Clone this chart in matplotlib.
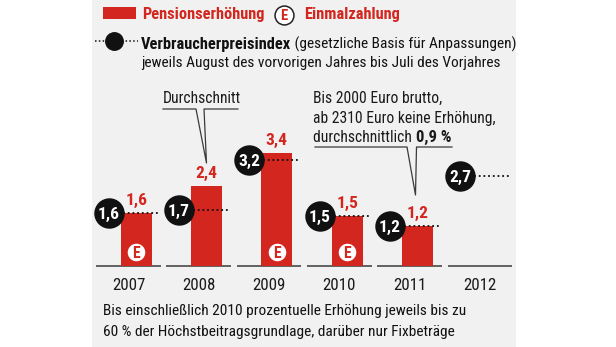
import os
import numpy as np
import matplotlib
matplotlib.use("Agg")
import matplotlib.pyplot as plt
import matplotlib.font_manager as fm
from matplotlib.font_manager import FontProperties

# ---------------- data ----------------
years = ["2007", "2008", "2009", "2010", "2011", "2012"]
pension = [1.6, 2.4, 3.4, 1.5, 1.2, np.nan]          # Pensionserhöhung in %
cpi = [1.6, 1.7, 3.2, 1.5, 1.2, 2.7]                  # Verbraucherpreisindex in %
einmal = [True, False, True, True, False, False]     # Einmalzahlung

RED = "#d2261e"
BG = "#f1f1f1"
BLACK = "#111111"

# ---------------- fonts ----------------
def _w(f):
    w = f.weight
    if isinstance(w, str):
        w = fm.weight_dict.get(w, 400)
    return int(w)

def pick_fonts():
    prefs = ["roboto", "noto", "liberation", "dejavu", "open", "lato"]
    fams = {}
    for f in fm.fontManager.ttflist:
        fn = os.path.basename(f.fname).lower()
        if f.style != "normal" or "italic" in fn or "oblique" in fn:
            continue
        if not ("condensed" in fn or "narrow" in fn):
            continue
        if any(k in fn for k in ("semi", "extra", "ultra", "light", "thin",
                                 "medium", "black", "heavy")):
            continue
        w = _w(f)
        d = fams.setdefault(f.name, {})
        if w >= 650:
            d.setdefault("b", f.fname)
        elif 350 <= w <= 500:
            d.setdefault("r", f.fname)
    best = None
    for name, d in fams.items():
        if "r" in d and "b" in d:
            low = name.lower()
            rank = next((i for i, p in enumerate(prefs) if p in low), 99)
            if best is None or rank < best[0]:
                best = (rank, d)
    if best:
        return (lambda s: FontProperties(fname=best[1]["r"], size=s),
                lambda s: FontProperties(fname=best[1]["b"], size=s))
    return (lambda s: FontProperties(family="Roboto", weight="normal", size=s),
            lambda s: FontProperties(family="Roboto", weight="bold", size=s))

FR, FB = pick_fonts()

W, H = 616, 347
fig = plt.figure(figsize=(W / 100, H / 100), dpi=100, facecolor="white")
renderer = fig.canvas.get_renderer()

def tw(s, prop):
    return renderer.get_text_width_height_descent(s, prop, ismath=False)[0]

kR = 358.0 / tw("jeweils August des vorvorigen Jahres bis Juli des Vorjahres", FR(12))
kB = 123.0 / tw("Pensionserhöhung", FB(12))
SR = 12 * kR
SB = 12 * kB

# ---------------- axes / pixel mapping ----------------
X0, DX, Y0, DY = 128.5, 70.3, 266.0, 33.2
def px(x):
    return (x - X0) / DX
def py(y):
    return (Y0 - y) / DY

ax = fig.add_axes([0, 0, 1, 1])
ax.set_xlim(px(0), px(W))
ax.set_ylim(py(H), py(0))
ax.axis("off")
ax.add_patch(plt.Rectangle((px(92), py(H)), px(516) - px(92), py(0) - py(H),
                           color=BG, zorder=0, lw=0))

x = np.arange(len(years))
BOFF, BW, COFF = 0.11, 0.44, -0.28

# baseline segments and years
for i, yr in enumerate(years):
    ax.plot([x[i] - 0.46, x[i] + 0.46], [0, 0], color="#3a3a3a", lw=1.1,
            zorder=2, solid_capstyle="butt")
    ax.text(x[i], py(289.5), yr, ha="center", va="baseline",
            fontproperties=FR(SR * 1.1), color="#1a1a1a")

# bars
valid = [i for i, v in enumerate(pension) if not np.isnan(v)]
ax.bar(x[valid] + BOFF, [pension[i] for i in valid], width=BW, color=RED,
       zorder=3, linewidth=0)
for i in valid:
    ax.annotate(f"{pension[i]:.1f}".replace(".", ","),
                (x[i] + BOFF, pension[i]), xytext=(0, 3.5),
                textcoords="offset points", ha="center", va="bottom",
                fontproperties=FB(SB * 1.06), color=RED, zorder=6)

# Einmalzahlung markers
for i in range(len(years)):
    if einmal[i]:
        ax.scatter([x[i] + BOFF], [py(252)], s=200, facecolor="white",
                   edgecolor=RED, linewidth=1.5, zorder=5)
        ax.text(x[i] + BOFF, py(252), "E", ha="center", va="center_baseline",
                fontproperties=FB(SB * 0.95), color=RED, zorder=6)

# CPI circles with dotted lines
for i in range(len(years)):
    xc = x[i] + COFF
    ax.plot([xc, x[i] + 0.43], [cpi[i], cpi[i]], color=BLACK, lw=1.3,
            ls=(0, (1, 1.6)), zorder=4)
    ax.scatter([xc], [cpi[i]], s=480, color=BLACK, zorder=7, linewidth=0)
    ax.text(xc, cpi[i], f"{cpi[i]:.1f}".replace(".", ","), ha="center",
            va="center_baseline", fontproperties=FB(SB * 1.06), color="white",
            zorder=8)

# ---------------- callouts ----------------
ax.text(px(202), py(103), "Durchschnitt", ha="center", va="baseline",
        fontproperties=FR(SR * 1.02), color="#1a1a1a")
ax.plot([px(163), px(196), px(206.5), px(204), px(238)],
        [py(109), py(109), py(163), py(109), py(109)],
        color="#3a3a3a", lw=0.9, zorder=2)

ax.text(px(313), py(103), "Bis 2000 Euro brutto,", ha="left", va="baseline",
        fontproperties=FR(SR * 1.02), color="#1a1a1a")
ax.text(px(313), py(122.5), "ab 2310 Euro keine Erhöhung,", ha="left",
        va="baseline", fontproperties=FR(SR * 1.02), color="#1a1a1a")
t3 = ax.text(px(313), py(142), "durchschnittlich ", ha="left", va="baseline",
             fontproperties=FR(SR * 1.02), color="#1a1a1a")
ax.annotate("0,9 %", xy=(1, 0), xycoords=t3, ha="left", va="bottom",
            fontproperties=FB(SB * 1.02), color="#1a1a1a")
ax.plot([px(315), px(407), px(415.5), px(416.5), px(452)],
        [py(147), py(147), py(195), py(147), py(147)],
        color="#3a3a3a", lw=0.9, zorder=2)

# ---------------- legend ----------------
ax.add_patch(plt.Rectangle((px(103), py(19)), px(136) - px(103), py(7) - py(19),
                           color=RED, lw=0, zorder=3))
ax.text(px(142), py(19.5), "Pensionserhöhung", ha="left", va="baseline",
        fontproperties=FB(SB), color=RED)
ax.scatter([px(284)], [py(14.5)], s=185, facecolor="white", edgecolor="#222222",
           linewidth=1.1, zorder=5)
ax.text(px(284), py(14.5), "E", ha="center", va="center_baseline",
        fontproperties=FB(SB * 0.9), color=RED, zorder=6)
ax.text(px(304), py(19.5), "Einmalzahlung", ha="left", va="baseline",
        fontproperties=FB(SB), color=RED)

ax.plot([px(95), px(138)], [py(41), py(41)], color=BLACK, lw=1.1,
        ls=(0, (1, 1.5)), zorder=3)
ax.scatter([px(114)], [py(41)], s=185, color=BLACK, zorder=5, linewidth=0)
t2 = ax.text(px(141), py(49), "Verbraucherpreisindex", ha="left", va="baseline",
             fontproperties=FB(SB), color="#111111")
ax.annotate(" (gesetzliche Basis für Anpassungen)", xy=(1, 0), xycoords=t2,
            ha="left", va="bottom", fontproperties=FR(SR), color="#111111")
ax.text(px(141), py(67), "jeweils August des vorvorigen Jahres bis Juli des Vorjahres",
        ha="left", va="baseline", fontproperties=FR(SR), color="#111111")

# ---------------- footnote ----------------
ax.text(px(103), py(315), "Bis einschließlich 2010 prozentuelle Erhöhung jeweils bis zu",
        ha="left", va="baseline", fontproperties=FR(SR), color="#111111")
ax.text(px(103), py(336), "60 % der Höchstbeitragsgrundlage, darüber nur Fixbeträge",
        ha="left", va="baseline", fontproperties=FR(SR), color="#111111")

fig.savefig("out.png", dpi=100, facecolor="white")
